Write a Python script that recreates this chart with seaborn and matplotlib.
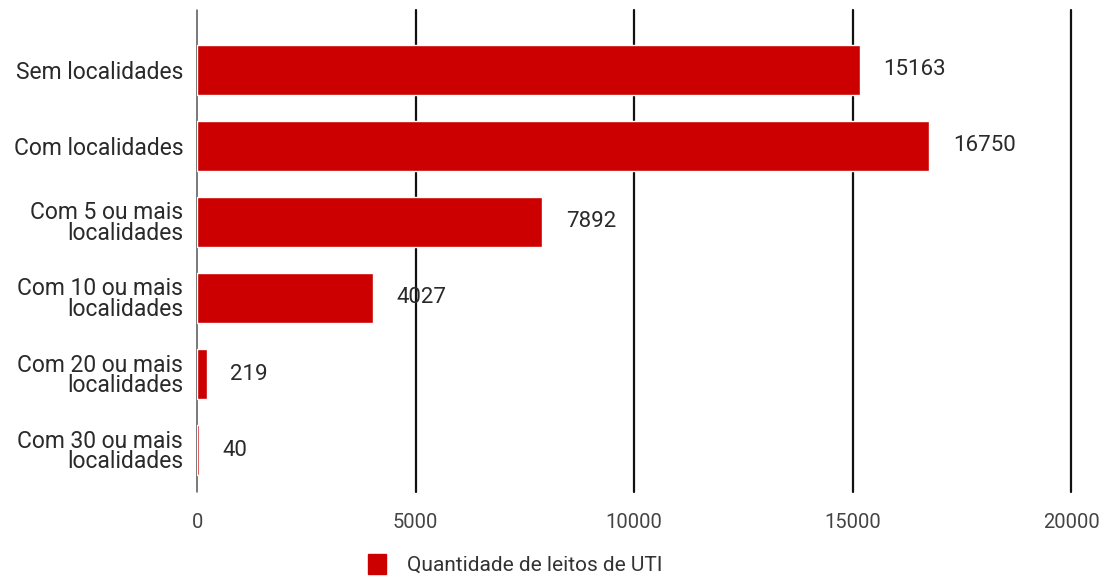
import matplotlib
matplotlib.use("Agg")
import matplotlib.pyplot as plt
from matplotlib.patches import Patch
import seaborn as sns
import pandas as pd

# Data
categories = [
    "Sem localidades",
    "Com localidades",
    "Com 5 ou mais\nlocalidades",
    "Com 10 ou mais\nlocalidades",
    "Com 20 ou mais\nlocalidades",
    "Com 30 ou mais\nlocalidades",
]
leitos_uti = [15163, 16750, 7892, 4027, 219, 40]
x_ticks = [0, 5000, 10000, 15000, 20000]
series_name = "Quantidade de leitos de UTI"

bar_color = "#cc0000"

sns.set_theme(style="white")
plt.rcParams["font.family"] = ["Roboto", "DejaVu Sans"]

df = pd.DataFrame({"categoria": categories, "leitos": leitos_uti})

fig = plt.figure(figsize=(11.01, 5.78), dpi=100)
ax = fig.add_axes([0.179, 0.149, 0.794, 0.834])

sns.barplot(data=df, x="leitos", y="categoria", orient="h", color=bar_color,
            saturation=1, width=0.66, ax=ax, zorder=3)

# Value labels at the bar ends
ax.bar_label(ax.containers[0], labels=[str(v) for v in leitos_uti],
             padding=17, fontsize=16, color="#2a2a2a", zorder=4)

ax.set_xlim(0, 20000)
ax.set_ylim(5.55, -0.79)
ax.set_xticks(x_ticks)
ax.set_xticklabels([str(t) for t in x_ticks], fontsize=14.5, color="#444444")
ax.tick_params(axis="x", length=0, pad=15)
ax.tick_params(axis="y", length=0, pad=10, labelsize=16.5, labelcolor="#2a2a2a")
for lbl in ax.get_yticklabels():
    lbl.set_horizontalalignment("right")
    lbl.set_multialignment("right")
    lbl.set_linespacing(0.85)

ax.xaxis.grid(True, color="#111111", linewidth=1.6, zorder=0)
grid_lines = ax.get_xgridlines()
for gl in grid_lines:
    gl.set_clip_on(False)
# the baseline at 0 is a thinner grey line
grid_lines[0].set_color("#555555")
grid_lines[0].set_linewidth(1.1)
ax.set_axisbelow(True)
for side in ["top", "right", "bottom", "left"]:
    ax.spines[side].set_visible(False)
ax.set_xlabel("")
ax.set_ylabel("")

fig.legend(handles=[Patch(facecolor=bar_color, edgecolor=bar_color, label=series_name)],
           loc="center", bbox_to_anchor=(0.468, 0.024), frameon=False,
           fontsize=15, handlelength=0.9, handleheight=1.1, handletextpad=1.0,
           labelcolor="#333333")

fig.savefig("out.png", dpi=100)
